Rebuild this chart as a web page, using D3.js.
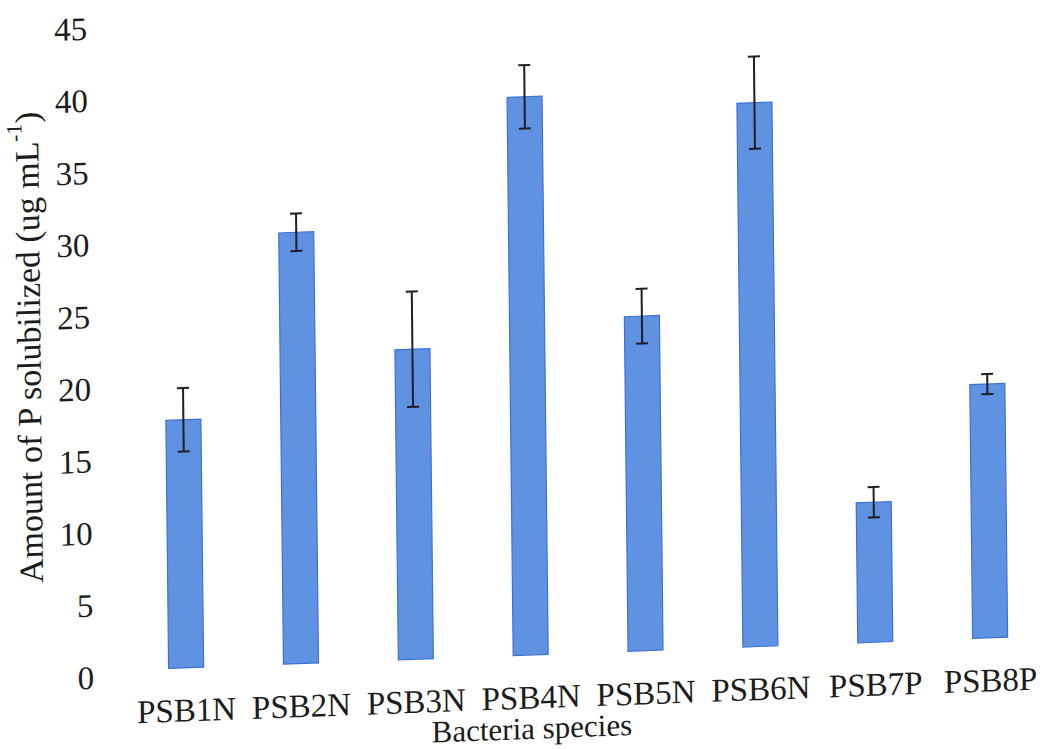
<!DOCTYPE html>
<html>
<head>
<meta charset="utf-8">
<script src="https://cdn.jsdelivr.net/npm/d3@7/dist/d3.min.js"></script>
<style>
  html, body { margin: 0; padding: 0; background: #fff; }
  svg { display: block; }
</style>
</head>
<body>
<svg id="chart" width="1042" height="749"></svg>
<script>
// Phosphate solubilized by each isolate (mean and error)
const categories = ["PSB1N", "PSB2N", "PSB3N", "PSB4N", "PSB5N", "PSB6N", "PSB7P", "PSB8P"];
const means      = [17.2, 29.9, 21.5, 38.7, 23.2, 37.7, 9.7, 17.6];
const errors     = [2.2, 1.3, 4.0, 2.2, 1.9, 3.2, 1.05, 0.7];
const yTicks     = [0, 5, 10, 15, 20, 25, 30, 35, 40, 45];

const FONT = "'Liberation Serif', 'DejaVu Serif', 'Times New Roman', serif";

const svg = d3.select("#chart")
  .attr("font-family", FONT);

// whole page sits slightly skewed on the sheet
const g = svg.append("g")
  .attr("transform", "matrix(1,-0.0373,0.011,1,-4.1,18.65)")
  .attr("font-family", FONT)
  .attr("fill", "#1c1c1c");

const x = d3.scalePoint().domain(categories).range([183, 987]);
const y = d3.scaleLinear().domain([0, 45]).range([656, 7]);
const barW = 35;

const data = categories.map((c, i) => ({ c, v: means[i], e: errors[i] }));

// bars
g.selectAll("rect.bar").data(data).join("rect")
  .attr("class", "bar")
  .attr("x", d => x(d.c) - barW / 2)
  .attr("y", d => y(d.v))
  .attr("width", barW)
  .attr("height", d => y(0) - y(d.v))
  .attr("fill", "#5f92e0")
  .attr("stroke", "#3c72d6")
  .attr("stroke-width", 1.2);

// error bars
const eb = g.selectAll("g.err").data(data).join("g").attr("class", "err")
  .attr("stroke", "#1e1e28").attr("stroke-width", 2);
eb.append("line")
  .attr("x1", d => x(d.c)).attr("x2", d => x(d.c))
  .attr("y1", d => y(d.v + d.e)).attr("y2", d => y(d.v - d.e));
eb.append("line")
  .attr("x1", d => x(d.c) - 6).attr("x2", d => x(d.c) + 6)
  .attr("y1", d => y(d.v + d.e)).attr("y2", d => y(d.v + d.e));
eb.append("line")
  .attr("x1", d => x(d.c) - 6).attr("x2", d => x(d.c) + 6)
  .attr("y1", d => y(d.v - d.e)).attr("y2", d => y(d.v - d.e));

// y tick labels
g.selectAll("text.ytick").data(yTicks).join("text")
  .attr("class", "ytick")
  .attr("font-family", FONT)
  .attr("x", 91)
  .attr("y", d => y(d) + 6)
  .attr("dy", "0.35em")
  .attr("text-anchor", "end")
  .attr("font-size", 33)
  .text(d => d);

// x category labels
g.selectAll("text.xtick").data(categories).join("text")
  .attr("class", "xtick")
  .attr("font-family", FONT)
  .attr("x", d => x(d))
  .attr("y", 698)
  .attr("dy", "0.35em")
  .attr("text-anchor", "middle")
  .attr("font-size", 33)
  .text(d => d);

// axis titles
g.append("text")
  .attr("font-family", FONT)
  .attr("x", 528).attr("y", 729).attr("dy", "0.35em")
  .attr("text-anchor", "middle")
  .attr("font-size", 31)
  .text("Bacteria species");

const yt = g.append("text")
  .attr("font-family", FONT)
  .attr("transform", "translate(29,330) rotate(-90)")
  .attr("dy", "0.35em")
  .attr("text-anchor", "middle")
  .attr("font-size", 34);
yt.append("tspan").text("Amount of P solubilized (ug mL");
yt.append("tspan").attr("font-size", 22).attr("dy", "-0.75em").text("-1");
yt.append("tspan").attr("dy", "0.5em").text(")");
</script>
</body>
</html>
